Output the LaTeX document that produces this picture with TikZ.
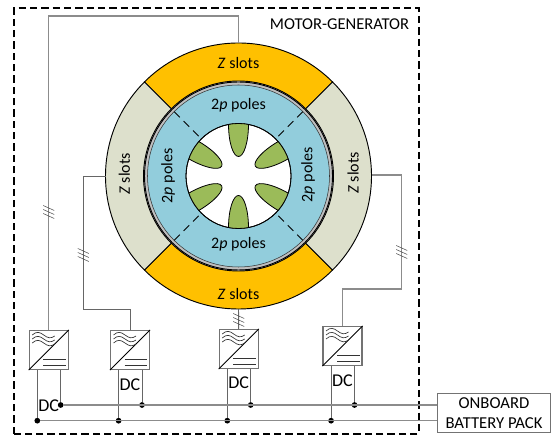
\documentclass[tikz,border=0pt]{standalone}
\usepackage{fontspec}
\setmainfont{Carlito}
\begin{document}
\begin{tikzpicture}[x=0.75pt,y=0.75pt,
    wire/.style={draw=black!45, line width=1pt},
    thinwire/.style={draw=black!60, line width=0.7pt},
    petal/.style={draw=black, line width=0.6pt, fill=petalgreen},
    dot/.style={circle, fill=black, inner sep=0pt, minimum size=4.3pt},
    convbox/.style={draw=black!55, line width=0.8pt, minimum size=29.25pt, inner sep=0pt, fill=white},
    label/.style={font=\fontsize{12pt}{14pt}\selectfont},
    hatch/.pic={\foreach \d in {-4,0,4} \draw[black!70, line width=0.4pt] (-5.5,\d+2.5) -- (5.5,\d-2.5);}]
    \definecolor{slotyellow}{HTML}{FFC000}
    \definecolor{slotbeige}{HTML}{DDE0CC}
    \definecolor{poleblue}{HTML}{92CDDC}
    \definecolor{petalgreen}{HTML}{9BBB59}

    % parameters
    \def\Ro{133}   % outer stator radius
    \def\Ri{95}    % inner stator radius
    \def\Rb{91}    % outer rotor radius
    \def\Rw{52.5}  % bore radius
    \def\Yu{33}    % upper bus
    \def\Yl{17.3}  % lower bus

    \useasboundingbox (0,0) rectangle (556,438);

    % frame
    \draw[black, line width=1.7pt, dash pattern=on 5.5pt off 3pt] (14,4) rectangle (418.7,430);
    \node[font=\fontsize{12.4pt}{14pt}\selectfont] (motorlabel) at (339.5,414) {MOTOR-GENERATOR};

    \begin{scope}[shift={(238.5,262)}]
        % stator sectors
        \foreach \a/\c in {45/slotyellow,225/slotyellow,135/slotbeige,-45/slotbeige}
            \draw[black, line width=0.7pt, fill=\c] (\a:\Ro) arc[start angle=\a, delta angle=90, radius=\Ro]
                -- (\a+90:\Ri) arc[start angle=\a+90, delta angle=-90, radius=\Ri] -- cycle;

        % rotor
        \draw[black, line width=0.7pt, fill=black!25] (0,0) circle[radius=94];
        \draw[black!80, line width=0.4pt, fill=poleblue] (0,0) circle[radius=\Rb];
        \draw[black, line width=0.6pt, fill=white] (0,0) circle[radius=\Rw];
        \foreach \a in {45,135,225,315}
            \draw[black, line width=0.6pt, dash pattern=on 6pt off 4pt] (\a:\Rb) -- (\a:\Rw);

        % petals
        \begin{scope}
            \clip (0,0) circle[radius=\Rw];
            \foreach \a in {90,30,-30,-90,210,150}
                \draw[petal] (\a:52) ellipse[x radius=32.5, y radius=10, rotate=\a];
        \end{scope}
        \draw[black, line width=0.6pt] (0,0) circle[radius=\Rw];

        % ends of the wires on the stator
        \coordinate (statortop) at (90:\Ro);
        \coordinate (statorbot) at (-90:\Ro);
        \coordinate (statorleft) at (180:\Ro);
        \coordinate (statorright) at (0:\Ro);

        % labels
        \node[label] (slotstop) at (0,113) {\textit{Z} slots};
        \node[label] (slotsbot) at (0,-118) {\textit{Z} slots};
        \node[label, rotate=90] (slotsleft) at (-114,2) {\textit{Z} slots};
        \node[label, rotate=90] (slotsright) at (114.5,3) {\textit{Z} slots};
        \node[label] (polestop) at (0,71) {2\textit{p} poles};
        \node[label] (polesbot) at (0,-68.5) {2\textit{p} poles};
        \node[label, rotate=90] (polesleft) at (-70.5,0) {2\textit{p} poles};
        \node[label, rotate=90] (polesright) at (69.5,1) {2\textit{p} poles};
    \end{scope}

    % battery
    \node[draw=black!55, line width=0.8pt, minimum width=85.3pt, minimum height=29.25pt, inner sep=0pt,
        align=center, font=\fontsize{12.5pt}{14.5pt}\selectfont] (battery) at (494,25) {ONBOARD\\BATTERY PACK};

    % converters
    \foreach \n/\x/\y/\t in {A/48.7/88/32.5,B/130/88/53,C/238.7/89/55.5,D/342.5/92/57.5} {
        \node[convbox] (conv\n) at (\x,\y) {};
        \draw[black, line width=0.6pt] (conv\n.south west) -- (conv\n.north east);
        \begin{scope}[shift={(\x,\y)}]
            \foreach \o in {15,11,7}
                \draw[black!80, line width=0.5pt] (-16.5,\o) .. controls (-12,\o+4) and (-9,\o+3) .. (-5,\o)
                    .. controls (-1,\o-3) and (2,\o-4) .. (6,\o-1);
            \draw[black!80, line width=0.9pt] (-5.5,-9.5) -- (17,-9.5);
            \draw[black!80, line width=0.9pt] (-5.5,-15.7) -- (17,-15.7);
        \end{scope}
        \node[dot] (dotl\n) at (\x-11.4,\Yl) {};
        \node[dot] (dotu\n) at (\x+12,\Yu) {};
        \draw[thinwire] (dotl\n) -- (dotl\n |- conv\n.south);
        \draw[thinwire] (dotu\n) -- (dotu\n |- conv\n.south);
        \node[font=\fontsize{13.5pt}{15pt}\selectfont] (dc\n) at (\x,\t) {DC};
    }

    % buses
    \draw[wire] (dotuA) -- (battery.west |- dotuA);
    \draw[wire] (dotlA) -- (battery.west |- dotlA);

    % wires to the stator
    \draw[wire] (convA.north) -- (convA.north |- 0,422) -- (statortop |- 0,422) -- (statortop);
    \draw[thinwire] (convB.north) -- (convB.north |- 0,129) -- (83.3,129) -- (83.3,262) -- (statorleft);
    \draw[thinwire] (convC.north) -- (statorbot);
    \draw[wire] (convD.north) -- (convD.north |- 0,149) -- (401.7,149) -- (401.7,263) -- (statorright |- 0,263);

    % hatch marks
    \path (48.7,226) pic {hatch};
    \path (83.3,183) pic {hatch};
    \path (238.7,118) pic {hatch};
    \path (401.7,186) pic {hatch};
\end{tikzpicture}
\end{document}
